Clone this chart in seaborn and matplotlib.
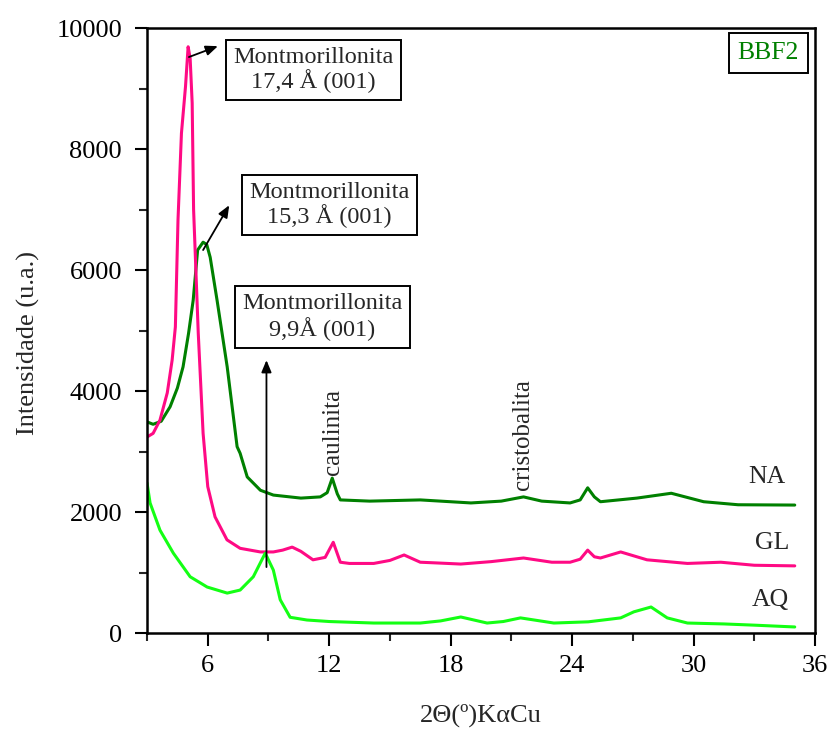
import matplotlib
matplotlib.use("Agg")
import matplotlib.pyplot as plt
import seaborn as sns
import pandas as pd
from matplotlib.ticker import MultipleLocator

# ---- data ----
na_x = [3.0, 3.3, 3.7, 4.14, 4.5, 4.78, 5.05, 5.28, 5.5, 5.77, 5.95, 6.12, 6.46, 6.96, 7.45, 7.6,
        7.95, 8.6, 9.24, 10.6, 11.56, 11.9, 12.15, 12.4, 12.55, 14.0, 16.5, 19.0, 20.5, 21.6, 22.5,
        23.9, 24.4, 24.77, 25.1, 25.4, 27.2, 28.9, 30.5, 32.2, 35.0]
na_y = [3490, 3450, 3500, 3740, 4050, 4400, 4950, 5500, 6330, 6460, 6420, 6210, 5500, 4400, 3080, 2970,
        2580, 2360, 2280, 2230, 2250, 2320, 2560, 2300, 2200, 2180, 2200, 2150, 2180, 2250, 2180,
        2150, 2200, 2400, 2250, 2170, 2230, 2310, 2170, 2120, 2115]

gl_x = [3.0, 3.3, 3.64, 4.0, 4.24, 4.4, 4.53, 4.7, 4.9, 5.03, 5.13, 5.23, 5.3, 5.53, 5.77, 6.0, 6.36,
        6.95, 7.6, 8.6, 9.24, 9.7, 10.17, 10.6, 11.2, 11.8, 12.2, 12.55, 13.0, 14.2, 15.0, 15.7, 16.5,
        17.2, 18.5, 20.0, 21.6, 23.0, 23.9, 24.4, 24.77, 25.1, 25.4, 25.9, 26.4, 26.8, 27.7, 29.7,
        31.35, 33.0, 35.0]
gl_y = [3240, 3300, 3520, 3970, 4510, 5060, 6830, 8260, 9030, 9690, 9500, 8760, 7000, 4960, 3300, 2420, 1920,
        1540, 1400, 1340, 1340, 1370, 1420, 1350, 1210, 1250, 1500, 1170, 1150, 1150, 1200, 1290, 1170,
        1160, 1140, 1180, 1240, 1170, 1170, 1220, 1370, 1260, 1240, 1290, 1340, 1300, 1210, 1150,
        1170, 1120, 1110]

aq_x = [3.0, 3.15, 3.64, 4.3, 5.13, 5.97, 6.96, 7.6, 8.25, 8.84, 9.24, 9.58, 10.07, 10.9, 12.0, 14.2,
        16.5, 17.5, 18.5, 19.8, 20.6, 21.45, 23.1, 24.8, 26.4, 27.05, 27.9, 28.7, 29.7, 31.5, 33.0, 35.0]
aq_y = [2480, 2150, 1700, 1320, 930, 760, 660, 710, 930, 1320, 1040, 550, 260, 215, 190, 165,
        165, 200, 265, 165, 190, 250, 165, 185, 250, 350, 430, 250, 165, 150, 130, 100]

series_names = ["NA", "GL", "AQ"]
series_colors = ["#008000", "#ff0a84", "#14ff14"]

x_ticks = [6, 12, 18, 24, 30, 36]
y_ticks = [0, 2000, 4000, 6000, 8000, 10000]

df = pd.concat([
    pd.DataFrame({"x": na_x, "y": na_y, "amostra": "NA"}),
    pd.DataFrame({"x": gl_x, "y": gl_y, "amostra": "GL"}),
    pd.DataFrame({"x": aq_x, "y": aq_y, "amostra": "AQ"}),
], ignore_index=True)

sns.set_theme(style="white")
plt.rcParams["font.family"] = ["Liberation Serif", "DejaVu Serif"]

fig = plt.figure(figsize=(8.34, 7.33), dpi=100)
ax = fig.add_axes([0.1763, 0.1364, 0.8009, 0.8254])

sns.lineplot(data=df, x="x", y="y", hue="amostra", hue_order=series_names,
             palette=dict(zip(series_names, series_colors)), linewidth=2.2,
             legend=False, ax=ax, estimator=None)

ax.set_xlim(3, 36)
ax.set_ylim(0, 10000)
ax.set_xticks(x_ticks)
ax.set_yticks(y_ticks)
ax.xaxis.set_minor_locator(MultipleLocator(3))
ax.yaxis.set_minor_locator(MultipleLocator(1000))
ax.tick_params(axis="both", which="major", direction="out", length=9, width=1.5,
               labelsize=19, colors="black", bottom=True, left=True)
ax.tick_params(axis="both", which="minor", direction="out", length=6, width=1.5,
               bottom=True, left=True)
ax.tick_params(axis="x", which="major", pad=7)
ax.tick_params(axis="y", which="major", pad=9)
for s in ax.spines.values():
    s.set_linewidth(1.8)
    s.set_color("black")

ax.set_xlabel("2Θ(º)KαCu", fontsize=19)
ax.xaxis.set_label_coords(0.5, -0.117)
ax.set_ylabel("Intensidade (u.a.)", fontsize=19)
ax.yaxis.set_label_coords(-0.16, 0.479)

box = dict(boxstyle="square,pad=0.3", fc="white", ec="black", lw=1.4)
ax.text(11.21, 9306, "Montmorillonita\n17,4 Å (001)", ha="center", va="center",
        fontsize=17.5, bbox=box, multialignment="center", linespacing=1.05)
ax.text(12.0, 7074, "Montmorillonita\n15,3 Å (001)", ha="center", va="center",
        fontsize=17.5, bbox=box, multialignment="center", linespacing=1.05)
ax.text(11.66, 5223, "Montmorillonita\n9,9Å (001)", ha="center", va="center",
        fontsize=17.5, bbox=box, multialignment="center", linespacing=1.15)

arrow = dict(arrowstyle="-|>,head_length=0.6,head_width=0.25", color="black", lw=1.3,
             shrinkA=0, shrinkB=0)
ax.annotate("", xy=(6.5, 9700), xytext=(5.07, 9520), arrowprops=arrow)
ax.annotate("", xy=(7.06, 7070), xytext=(5.77, 6330), arrowprops=arrow)
ax.annotate("", xy=(8.9, 4510), xytext=(8.9, 1090), arrowprops=arrow)

ax.text(12.2, 2620, "caulinita", rotation=90, ha="center", va="bottom", fontsize=18)
ax.text(21.55, 2370, "cristobalita", rotation=90, ha="center", va="bottom", fontsize=18)

ax.text(33.6, 2580, "NA", ha="center", va="center", fontsize=18.5)
ax.text(33.9, 1490, "GL", ha="center", va="center", fontsize=18.5)
ax.text(33.8, 545, "AQ", ha="center", va="center", fontsize=18.5)

ax.text(33.7, 9590, "BBF2", ha="center", va="center", fontsize=18.5, color="#008000",
        bbox=dict(boxstyle="square,pad=0.35", fc="white", ec="black", lw=1.4))

fig.savefig("out.png", dpi=100)
